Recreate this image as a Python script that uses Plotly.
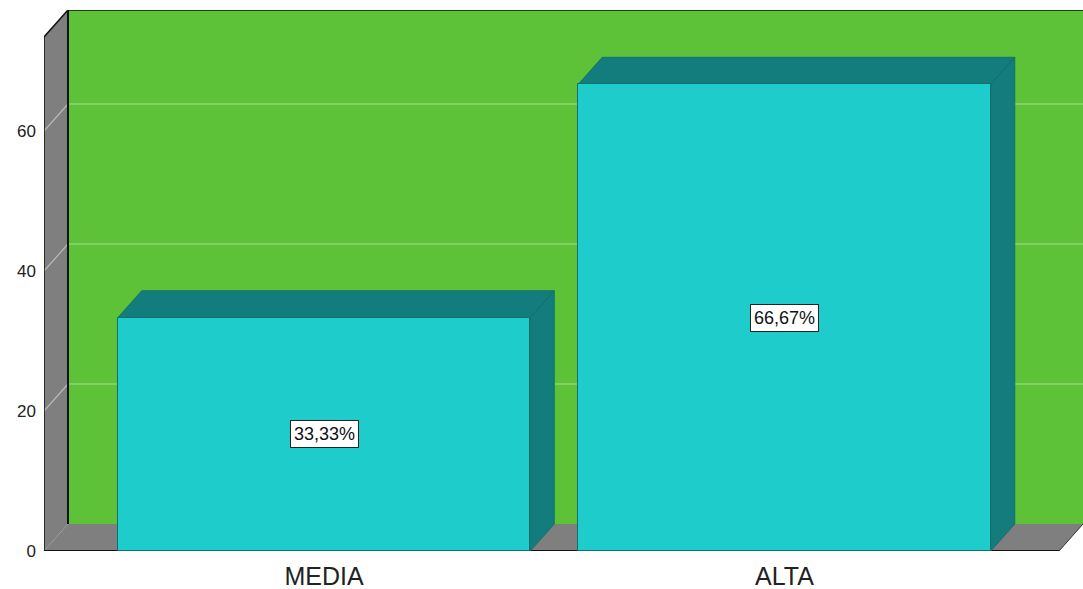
import plotly.graph_objects as go

# ---- data ----
categories = ["MEDIA", "ALTA"]
percent_values = [33.33, 66.67]
y_tick_values = [0, 20, 40, 60]

# ---- style / geometry ----
W, H = 1083, 589
ML, MR, MT, MB = 44, 0, 10, 38
PX_PER_CAT = 460.5          # pixels per category step
PX_PER_UNIT = 7.0           # pixels per y unit
X_LEFT = -280 / PX_PER_CAT  # left front edge of the "cube"
X_RANGE = [X_LEFT, X_LEFT + (W - ML - MR) / PX_PER_CAT]
Y_RANGE = [0, (H - MT - MB) / PX_PER_UNIT]
DX = 24 / PX_PER_CAT        # depth offset in x units
DY = 27 / PX_PER_UNIT       # depth offset in y units
Y_TOP = Y_RANGE[1] - DY     # top of front plane
X_FRONT_RIGHT = X_RANGE[1] - DX
BAR_W = 0.896

GREEN = "#5ec238"
GRAY = "#7f7f7f"
CYAN = "#1fcccc"
TEAL = "#137d7d"
GRID = "rgba(255,255,255,0.45)"

shapes = []

def poly(pts, fill, line_color=None, lw=0):
    path = "M " + " L ".join(f"{x},{y}" for x, y in pts) + " Z"
    shapes.append(dict(type="path", path=path, xref="x", yref="y", layer="below",
                       fillcolor=fill,
                       line=dict(color=line_color or fill, width=lw)))

def seg(x0, y0, x1, y1, color, lw=1):
    shapes.append(dict(type="line", x0=x0, y0=y0, x1=x1, y1=y1, xref="x", yref="y",
                       layer="below", line=dict(color=color, width=lw)))

# back wall
poly([(X_LEFT + DX, DY), (X_RANGE[1] + 0.01, DY), (X_RANGE[1] + 0.01, Y_TOP + DY),
      (X_LEFT + DX, Y_TOP + DY)], GREEN)
# floor
poly([(X_LEFT, 0), (X_FRONT_RIGHT, 0), (X_FRONT_RIGHT + DX, DY), (X_LEFT + DX, DY)], GRAY)
# side wall
poly([(X_LEFT, 0), (X_LEFT, Y_TOP), (X_LEFT + DX, Y_TOP + DY), (X_LEFT + DX, DY)], GRAY)

# gridlines on walls
for v in y_tick_values[1:]:
    seg(X_LEFT + DX, v + DY, X_RANGE[1], v + DY, GRID, 1.2)
    seg(X_LEFT, v, X_LEFT + DX, v + DY, GRID, 1.2)

# wall outlines
seg(X_LEFT + DX, DY, X_LEFT + DX, Y_TOP + DY, "#111", 2)
seg(X_LEFT + DX, Y_TOP + DY, X_RANGE[1], Y_TOP + DY, "#111", 1.5)
seg(X_LEFT, 0, X_LEFT, Y_TOP, "#111", 1.5)
seg(X_LEFT, Y_TOP, X_LEFT + DX, Y_TOP + DY, "#111", 1.5)
seg(X_LEFT, 0, X_FRONT_RIGHT, 0, "#111", 2)
seg(X_FRONT_RIGHT, 0, X_FRONT_RIGHT + DX, DY, "#333", 1)

# 3D faces of bars
for i, v in enumerate(percent_values):
    x0, x1 = i - BAR_W / 2, i + BAR_W / 2
    poly([(x0, v), (x1, v), (x1 + DX, v + DY), (x0 + DX, v + DY)], TEAL, "#0f6a6a", 0.8)
    poly([(x1, 0), (x1, v), (x1 + DX, v + DY), (x1 + DX, DY)], TEAL, "#0f6a6a", 0.8)

fig = go.Figure()
fig.add_trace(go.Bar(
    x=list(range(len(categories))), y=percent_values, width=BAR_W,
    marker=dict(color=CYAN, line=dict(color="#127070", width=1)),
    hoverinfo="skip", showlegend=False,
))

annotations = []
for i, v in enumerate(percent_values):
    annotations.append(dict(
        x=i, y=v / 2, xref="x", yref="y", showarrow=False,
        text=f"{v:.2f}".replace(".", ",") + "%",
        font=dict(family="Liberation Sans, Arial", size=18, color="#111"),
        bgcolor="white", bordercolor="#222", borderwidth=1, borderpad=3,
    ))

fig.update_layout(
    width=W, height=H,
    margin=dict(l=ML, r=MR, t=MT, b=MB),
    paper_bgcolor="white", plot_bgcolor="white",
    shapes=shapes, annotations=annotations,
    xaxis=dict(range=X_RANGE, tickmode="array", tickvals=list(range(len(categories))),
               ticktext=categories, showgrid=False, zeroline=False, showline=False,
               ticks="", ticklabelstandoff=8,
               tickfont=dict(family="Liberation Sans, Arial", size=25, color="#222"),
               fixedrange=True),
    yaxis=dict(range=Y_RANGE, tickmode="array", tickvals=y_tick_values,
               showgrid=False, zeroline=False, showline=False, ticks="",
               ticklabelstandoff=7,
               tickfont=dict(family="Liberation Sans, Arial", size=17, color="#222"),
               fixedrange=True),
    bargap=0,
)

fig.write_html("out.html", config={"displayModeBar": False},
               post_script="document.body.style.margin='0';document.body.style.overflow='hidden';")
